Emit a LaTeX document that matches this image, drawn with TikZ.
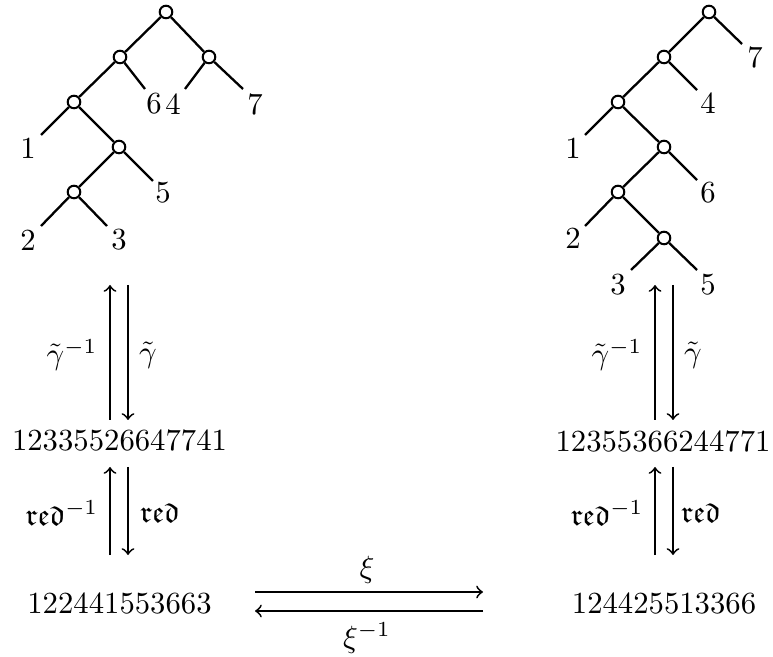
\documentclass[tikz,border=0pt]{standalone}
\usepackage{amssymb}
\begin{document}
\begin{tikzpicture}[x=0.3257pt,y=-0.3257pt,
  vtx/.style={circle,draw,fill=white,inner sep=0pt,minimum size=4.1pt,line width=0.65pt},
  edge/.style={line width=0.75pt},
  lf/.style={inner sep=0pt},
  arr/.style={->,line width=0.6pt},
  word/.style={inner sep=0pt}]
\useasboundingbox (0,0) rectangle (773,657);
% ---- left tree ----
\node[vtx] (r) at (166,12) {};
\node[vtx] (a) at (120,57) {};
\node[vtx] (b) at (209,57) {};
\node[vtx] (c) at (74,102) {};
\node[vtx] (d) at (119,147) {};
\node[vtx] (e) at (74,192) {};
\coordinate (l6) at (145,89);
\coordinate (l4) at (185,89);
\coordinate (l7) at (243,89);
\coordinate (l1) at (41,135);
\coordinate (l5) at (153,181);
\coordinate (l2) at (41,226);
\coordinate (l3) at (107,226);
\draw[edge] (r) -- (a) (r) -- (b) (a) -- (c) (a) -- (l6) (b) -- (l4) (b) -- (l7)
  (c) -- (l1) (c) -- (d) (d) -- (e) (d) -- (l5) (e) -- (l2) (e) -- (l3);
\node[lf] (t6) at (154,104) {6};
\node[lf] (t4) at (173,104) {4};
\node[lf] (t7) at (255,104) {7};
\node[lf] (t1) at (28,148) {1};
\node[lf] (t5) at (163,193) {5};
\node[lf] (t2) at (28,240) {2};
\node[lf] (t3) at (119,240) {3};
% ---- right tree ----
\node[vtx] (R) at (709,12) {};
\node[vtx] (A) at (664,57) {};
\node[vtx] (B) at (618,102) {};
\node[vtx] (C) at (664,147) {};
\node[vtx] (D) at (618,192) {};
\node[vtx] (E) at (664,238) {};
\coordinate (L7) at (742,44);
\coordinate (L4) at (697,90);
\coordinate (L1) at (585,135);
\coordinate (L6) at (697,180);
\coordinate (L2) at (585,226);
\coordinate (L3) at (631,270);
\coordinate (L5) at (697,270);
\draw[edge] (R) -- (A) (R) -- (L7) (A) -- (B) (A) -- (L4) (B) -- (L1) (B) -- (C)
  (C) -- (D) (C) -- (L6) (D) -- (L2) (D) -- (E) (E) -- (L3) (E) -- (L5);
\node[lf] (T7) at (755,57) {7};
\node[lf] (T4) at (708,103) {4};
\node[lf] (T1) at (573,148) {1};
\node[lf] (T6) at (708,193) {6};
\node[lf] (T2) at (573,238) {2};
\node[lf] (T3) at (618,285) {3};
\node[lf] (T5) at (708,285) {5};
% ---- words ----
\node[word] (w1) at (119.5,440) {12335526647741};
\node[word] (w2) at (119.5,603) {122441553663};
\node[word] (v1) at (663,441) {12355366244771};
\node[word] (v2) at (664,603) {124425513366};
% ---- vertical arrows left ----
\coordinate (lu1s) at (110,420); \coordinate (lu1e) at (110,285);
\coordinate (ld1s) at (128,285); \coordinate (ld1e) at (128,420);
\draw[arr] (lu1s) -- (lu1e);
\draw[arr] (ld1s) -- (ld1e);
\node (g1) at (72,355) {$\tilde\gamma^{-1}$};
\node (g2) at (148,355) {$\tilde\gamma$};
\coordinate (lu2s) at (110,555); \coordinate (lu2e) at (110,467);
\coordinate (ld2s) at (128,467); \coordinate (ld2e) at (128,555);
\draw[arr] (lu2s) -- (lu2e);
\draw[arr] (ld2s) -- (ld2e);
\node (r1) at (62,513) {$\mathfrak{red}^{-1}$};
\node (r2) at (160,513) {$\mathfrak{red}$};
% ---- vertical arrows right ----
\coordinate (ru1s) at (655,420); \coordinate (ru1e) at (655,285);
\coordinate (rd1s) at (673,285); \coordinate (rd1e) at (673,420);
\draw[arr] (ru1s) -- (ru1e);
\draw[arr] (rd1s) -- (rd1e);
\node (G1) at (617,355) {$\tilde\gamma^{-1}$};
\node (G2) at (693,355) {$\tilde\gamma$};
\coordinate (ru2s) at (655,555); \coordinate (ru2e) at (655,467);
\coordinate (rd2s) at (673,467); \coordinate (rd2e) at (673,555);
\draw[arr] (ru2s) -- (ru2e);
\draw[arr] (rd2s) -- (rd2e);
\node (R1) at (607,513) {$\mathfrak{red}^{-1}$};
\node (R2) at (701,513) {$\mathfrak{red}$};
% ---- horizontal arrows ----
\coordinate (h1s) at (255,592); \coordinate (h1e) at (483,592);
\coordinate (h2s) at (483,611); \coordinate (h2e) at (255,611);
\draw[arr] (h1s) -- (h1e);
\draw[arr] (h2s) -- (h2e);
\node (x1) at (367,570) {$\xi$};
\node (x2) at (367,638) {$\xi^{-1}$};
\end{tikzpicture}
\end{document}
